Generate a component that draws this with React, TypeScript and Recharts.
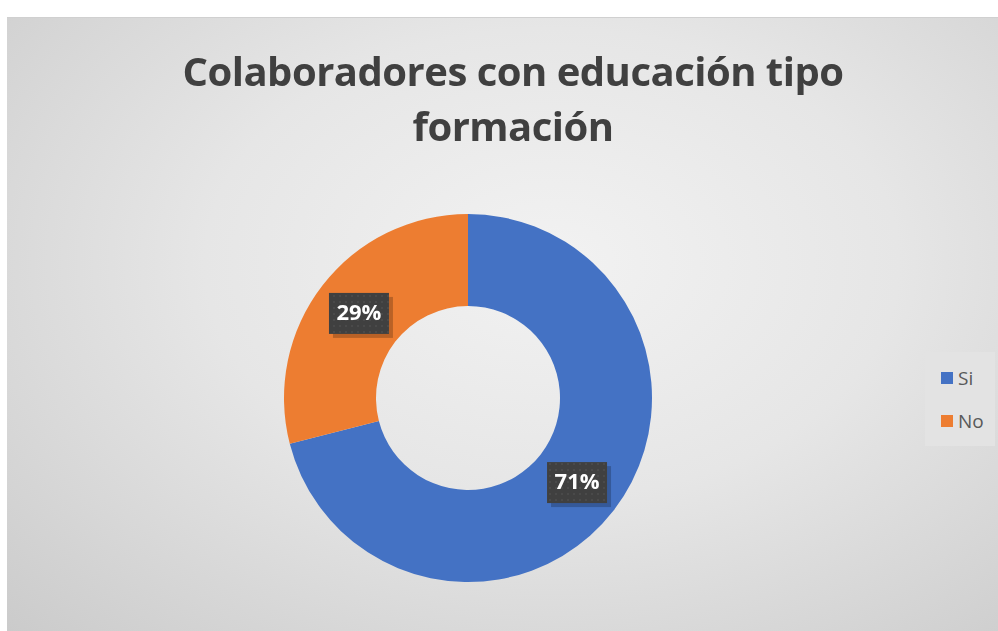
import { PieChart, Pie, Cell, Legend } from 'recharts'

const categories = ['Si', 'No']
const values = [71, 29]
const colors = ['#4472C4', '#ED7D31']

const data = categories.map((name, i) => ({ name, value: values[i] }))

const RADIAN = Math.PI / 180

function renderLabel(props: any) {
  const { cx, cy, midAngle, innerRadius, outerRadius, percent } = props
  const r = (innerRadius + outerRadius) / 2
  const x = cx + r * Math.cos(-midAngle * RADIAN)
  const y = cy + r * Math.sin(-midAngle * RADIAN)
  const w = 60
  const h = 41
  return (
    <g>
      <rect x={x - w / 2 + 4} y={y - h / 2 + 4} width={w} height={h} fill="rgba(0,0,0,0.22)" />
      <rect x={x - w / 2} y={y - h / 2} width={w} height={h} fill="url(#dots)" />
      <text x={x} y={y + 1} fill="#fff" fontSize={22} fontWeight={700}
        fontFamily="'Open Sans', sans-serif" textAnchor="middle" dominantBaseline="middle">
        {`${Math.round(percent * 100)}%`}
      </text>
    </g>
  )
}

function LegendBox() {
  return (
    <div style={{ background: '#e3e3e3', width: 70, height: 94, boxSizing: 'border-box', paddingTop: 14, paddingLeft: 16 }}>
      {categories.map((name, i) => (
        <div key={name} style={{ display: 'flex', alignItems: 'center', height: 24, marginBottom: 19 }}>
          <span style={{ width: 12, height: 12, background: colors[i], display: 'inline-block', marginRight: 5 }} />
          <span style={{ fontSize: 19, color: '#595959', fontFamily: "'Open Sans', sans-serif" }}>{name}</span>
        </div>
      ))}
    </div>
  )
}

export default function App() {
  return (
    <div style={{ position: 'fixed', left: 0, top: 0, width: 998, height: 631, background: '#fff' }}>
      <div style={{
        position: 'absolute', left: 7, top: 17, width: 991, height: 614,
        background: 'radial-gradient(ellipse at 55% 40%, #f2f2f2 0%, #e6e6e6 45%, #cbcbcb 100%)',
        boxShadow: 'inset 0 1px 0 #d0d0d0',
      }}>
        <div style={{
          position: 'absolute', left: 0, top: 26, width: 1012, textAlign: 'center',
          fontFamily: "'Open Sans', sans-serif", fontWeight: 700, fontSize: 40,
          lineHeight: '55px', color: '#404040', letterSpacing: -0.5,
        }}>
          Colaboradores con educación tipo<br />formación
        </div>
        <PieChart width={991} height={614} margin={{ top: 0, right: 0, bottom: 0, left: 0 }}
          style={{ position: 'absolute', left: 0, top: 0 }}>
          <defs>
            <pattern id="dots" width="6" height="6" patternUnits="userSpaceOnUse">
              <rect width="6" height="6" fill="#404040" />
              <rect x="2" y="2" width="2" height="2" fill="#4a4a4a" />
            </pattern>
          </defs>
          <Pie
            data={data}
            dataKey="value"
            nameKey="name"
            cx={461}
            cy={381}
            innerRadius={92}
            outerRadius={184}
            startAngle={90}
            endAngle={-270}
            stroke="none"
            label={renderLabel}
            labelLine={false}
            isAnimationActive={false}
          >
            {data.map((d, i) => (
              <Cell key={d.name} fill={colors[i]} />
            ))}
          </Pie>
          <Legend
            layout="vertical"
            verticalAlign="top"
            align="right"
            content={<LegendBox />}
            wrapperStyle={{ position: 'absolute', left: 918, top: 335, width: 70 }}
          />
        </PieChart>
      </div>
    </div>
  )
}
